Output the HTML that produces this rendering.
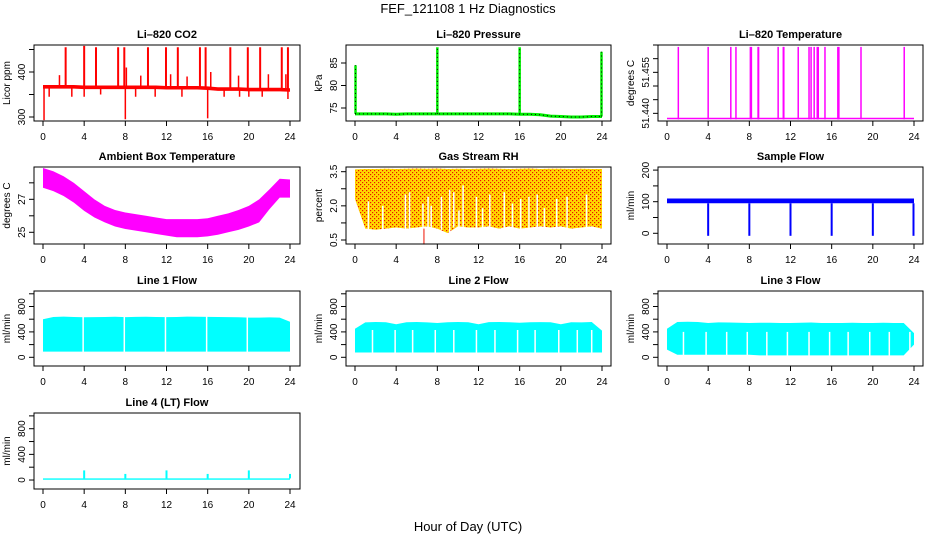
<!DOCTYPE html>
<html><head><meta charset="utf-8">
<style>
html,body{margin:0;padding:0;background:#fff;}
svg{display:block;font-family:"Liberation Sans",sans-serif;}
.t{font-size:11px;font-weight:bold;text-anchor:middle;}
.tk{font-size:10px;text-anchor:middle;}
</style></head>
<body>
<svg id="chart" width="936" height="540" viewBox="0 0 936 540" xmlns="http://www.w3.org/2000/svg">
<defs>
<pattern id="rhdots" width="4" height="4" patternUnits="userSpaceOnUse"><rect width="4" height="4" fill="#ffd800"/><rect x="0" y="0" width="1.2" height="1.2" fill="#ee1100"/><rect x="2" y="2" width="1.2" height="1.2" fill="#ee1100"/></pattern>
</defs>
<text x="468" y="13" font-size="13" text-anchor="middle">FEF_121108  1 Hz Diagnostics</text>
<text x="468" y="531" font-size="13" text-anchor="middle">Hour of Day (UTC)</text>
</svg>
<script>
// ---- data ----
const xTicks = [0,4,8,12,16,20,24];
const hours = [0,1,2,3,4,5,6,7,8,9,10,11,12,13,14,15,16,17,18,19,20,21,22,23,24];
const co2Level = [367,367,367,367,366,366,366,366,366,366,366,366,365,365,365,365,364,362,362,362,361,361,361,361,360];
const co2SpikeHours = [2.2,4.0,5.15,7.3,7.9,10.2,11.95,13.1,15.25,15.8,18.2,19.9,21.1,23.2,23.8];
const co2SpikeVals = [455,458,455,455,455,455,455,455,455,455,455,455,455,455,455];
const co2SmallHours = [1.6,8.1,9.5,12.4,14.0,16.3,19.0,21.9,23.6];
const co2SmallVals = [393,410,392,395,390,400,392,395,395];
const co2DownHours = [0.1,0.6,2.8,4.0,5.6,8.0,9.0,10.9,13.5,16.0,17.6,19.1,20.0,21.3,23.8];
const co2DownVals = [293,345,345,345,350,295,345,345,345,297,345,345,345,345,340];
const presLevel = [73.7,73.7,73.7,73.7,73.6,73.7,73.7,73.7,73.7,73.7,73.7,73.7,73.7,73.7,73.7,73.7,73.6,73.6,73.5,73.2,73.1,73.0,73.0,73.1,73.1];
const presSpikeHours = [0.05,8.0,16.0,23.95];
const presSpikeVals = [84.5,88.5,88.5,87.5];
const tempBase = 51.4381;
const tempSpikeHours = [1.1,4.0,6.2,6.7,8.1,8.2,8.85,8.9,10.8,11.3,11.35,12.75,13.8,14.0,14.3,14.6,14.7,15.35,16.6,16.7,18.85,23.05];
const ambUpper = [28.9,28.7,28.4,28.0,27.5,27.0,26.6,26.35,26.2,26.1,26.0,25.9,25.8,25.8,25.8,25.8,25.85,26.0,26.15,26.35,26.6,27.0,27.6,28.25,28.2];
const ambLower = [27.7,27.5,27.2,26.8,26.3,25.9,25.6,25.35,25.2,25.1,25.0,24.9,24.8,24.7,24.7,24.7,24.75,24.85,25.0,25.15,25.35,25.6,26.4,27.1,27.1];
const rhHigh = [3.6,3.62,3.62,3.63,3.62,3.63,3.64,3.63,3.64,3.62,3.63,3.62,3.63,3.64,3.63,3.62,3.63,3.64,3.62,3.63,3.63,3.62,3.63,3.62,3.62];
const rhLow = [2.3,1.0,0.95,1.0,1.05,1.0,1.05,1.1,1.0,0.8,1.1,1.05,1.05,1.1,1.0,1.1,1.0,1.05,1.1,1.05,1.1,1.0,1.05,1.1,1.0];
const rhGapHours = [1.3,2.7,4.9,5.3,6.6,7.1,7.4,8.4,9.2,9.6,10.1,10.5,11.8,12.4,13.1,14.5,15.3,16.1,16.9,17.7,18.4,19.6,20.6,22.5];
const rhGapTop = [2.2,2.0,2.5,2.6,2.1,2.4,2.0,2.4,2.7,2.6,1.8,2.9,2.4,1.9,2.5,2.6,2.1,2.3,2.4,2.5,1.9,2.3,2.4,2.5];
const sampleLow = 95, sampleHigh = 110;
const sampleDropHours = [4,8,12,16,20,23.95];
const sampleDropVals = [-8,-8,-8,-8,-8,-8];
const l1Low = 90, l1High = [600,635,640,635,630,632,635,638,632,636,638,635,632,635,640,638,636,635,632,630,625,625,628,625,560];
const l1GapHours = [3.9,7.9,11.9,15.9,19.85];
const l2Low = 75, l2High = [450,550,555,552,520,552,555,550,540,552,555,552,520,553,555,552,545,552,553,552,520,552,550,555,420];
const l2GapHours = [1.7,3.9,5.6,7.8,9.6,11.8,13.6,15.8,17.5,19.8,21.6,23.0];
const l3Low = [120,40,40,40,40,40,40,40,40,30,30,30,30,30,30,30,30,30,30,30,30,30,30,30,200];
const l3High = [450,555,560,555,540,550,548,545,540,545,545,540,540,545,548,540,540,540,545,540,540,545,540,540,380];
const l3GapHours = [1.6,3.8,5.8,7.8,9.7,11.7,13.8,15.8,17.6,19.7,21.6,23.6];
const l4Low = 5, l4High = 25;
const l4SpikeHours = [4,8,12,16,20,24];
const l4SpikeVals = [150,95,150,95,150,95];

// ---- layout ----
const svg = document.getElementById('chart');
const NS = 'http://www.w3.org/2000/svg';
const cols = [{l:34,r:300,x0:43,x1:290},{l:346,r:611,x0:355,x1:602},{l:658,r:923,x0:667,x1:914}];
const rows = [{t:45,b:121},{t:167,b:244},{t:291,b:366},{t:413,b:489}];
function el(tag, a, p){const e=document.createElementNS(NS,tag);for(const k in a)e.setAttribute(k,a[k]);(p||svg).appendChild(e);return e;}

function panel(c,r,title,ylab,ymin,ymax,ticks,labels,name){
  const C=cols[c],R=rows[r];
  const g=el('g',{});
  
  
  const P={g,
    x:h=>C.x0+(C.x1-C.x0)*h/24,
    y:v=>R.b-(v-ymin)/(ymax-ymin)*(R.b-R.t), C, R};
  const tt=el('text',{x:(C.l+C.r)/2,y:R.t-7,class:'t'},g); tt.textContent=title;
  
  
  const yl=el('text',{x:0,y:0,class:'tk',transform:`translate(${C.l-24},${(R.t+R.b)/2}) rotate(-90)`},g); yl.textContent=ylab;
  
  
  xTicks.forEach(h=>{
    const x=P.x(h);
    el('line',{x1:x,x2:x,y1:R.b,y2:R.b+5,stroke:'#000'},g);
    const t=el('text',{x:x,y:R.b+19,class:'tk'},g); t.textContent=h;
    
    
  });
  ticks.forEach((v,i)=>{
    const y=P.y(v);
    el('line',{x1:C.l-5,x2:C.l,y1:y,y2:y,stroke:'#000'},g);
    if(labels[i]){const t=el('text',{x:0,y:0,class:'tk',transform:`translate(${C.l-9},${y}) rotate(-90)`},g);t.textContent=labels[i];
      
      }
  });
  P.marks=el('g',{},g);
  P.box=()=>{const b=el('rect',{x:C.l,y:R.t,width:C.r-C.l,height:R.b-R.t,fill:'none',stroke:'#000'},g);
    
    };
  return P;
}
function vline(P,h,v1,v2,col,w,nm){const l=el('line',{x1:P.x(h),x2:P.x(h),y1:P.y(v1),y2:P.y(v2),stroke:col,'stroke-width':w||1.5},P.marks);
  
  return l;}
function band(P,lo,hi,fill,nm){
  const lo2=Array.isArray(lo)?lo:hours.map(()=>lo), hi2=Array.isArray(hi)?hi:hours.map(()=>hi);
  let pts=hours.map((h,i)=>P.x(h)+','+P.y(hi2[i]));
  pts=pts.concat(hours.slice().reverse().map((h,j)=>{const i=hours.length-1-j;return P.x(h)+','+P.y(lo2[i]);}));
  const p=el('polygon',{points:pts.join(' '),fill:fill},P.marks);
  
  return p;}

// CO2
let P=panel(0,0,'Li–820 CO2','Licor ppm',291.1,460,[300,350,400,450],['300','','400',''],'co2');
band(P,co2Level.map(v=>v-4),co2Level.map(v=>v+4),'#ff0000','co2-band');
co2SpikeHours.forEach((h,i)=>vline(P,h,co2Level[Math.round(h)],co2SpikeVals[i],'#ff0000',2,'co2-spike'));
co2SmallHours.forEach((h,i)=>vline(P,h,co2Level[Math.round(h)],co2SmallVals[i],'#ff0000',1.5,'co2-small-spike'));
co2DownHours.forEach((h,i)=>vline(P,h,co2Level[Math.round(h)],co2DownVals[i],'#ff0000',1.5,'co2-dip'));
P.box();

// Pressure
P=panel(1,0,'Li–820 Pressure','kPa',72.11,89,[75,80,85],['75','80','85'],'pressure');
let pl=el('polyline',{points:hours.map((h,i)=>P.x(h)+','+P.y(presLevel[i])).join(' '),fill:'none',stroke:'#00ee00','stroke-width':3},P.marks);


let pd=el('polyline',{points:hours.map((h,i)=>P.x(h)+','+P.y(presLevel[i])).join(' '),fill:'none',stroke:'#000','stroke-width':1,'stroke-dasharray':'1,3'},P.marks);


presSpikeHours.forEach((h,i)=>{vline(P,h,presLevel[Math.round(h)],presSpikeVals[i],'#00ee00',2.5,'pressure-spike');
  vline(P,h,presLevel[Math.round(h)],presSpikeVals[i],'#000',1,'pressure-spike-points').setAttribute('stroke-dasharray','1,3');});
P.box();

// Temperature
P=panel(2,0,'Li–820 Temperature','degrees C',51.4372,51.465,[51.44,51.445,51.45,51.455,51.46,51.465],['51.440','','','51.455','',''],'li820-temp');
let tl=el('line',{x1:P.x(0),x2:P.x(24),y1:P.y(tempBase),y2:P.y(tempBase),stroke:'#ff00ff','stroke-width':1.5},P.marks);


tempSpikeHours.forEach(h=>vline(P,h,tempBase-0.0003,51.4643,'#ff00ff',1.5,'temp-spike'));
P.box();

// Ambient
P=panel(0,1,'Ambient Box Temperature','degrees C',24.29,28.96,[25,26,27,28],['25','','27',''],'ambient-temp');
band(P,ambLower,ambUpper,'#ff00ff','ambient-band');
P.box();

// RH
P=panel(1,1,'Gas Stream RH','percent',0.324,3.706,[0.5,1.25,2.0,2.75,3.5],['0.5','','2.0','','3.5'],'rh');
band(P,rhLow,rhHigh,'url(#rhdots)','rh-band');
rhGapHours.forEach((h,i)=>vline(P,h,rhLow[Math.round(h)]-0.05,rhGapTop[i],'#ffffff',1.5,'rh-gap'));
vline(P,6.7,0.3,1.0,'#ee1100',1,'rh-outlier');
P.box();

// Sample flow
P=panel(2,1,'Sample Flow','ml/min',-33.9,209.8,[0,50,100,150,200],['0','','100','','200'],'sample-flow');
band(P,sampleLow,sampleHigh,'#0000ff','sample-band');
sampleDropHours.forEach((h,i)=>vline(P,h,sampleLow,sampleDropVals[i],'#0000ff',2,'sample-drop'));
P.box();

// Line 1
const flowTicks=[0,200,400,600,800,1000], flowLabels=['0','','400','','800',''];
P=panel(0,2,'Line 1 Flow','ml/min',-137,1044,flowTicks,flowLabels,'line1-flow');
band(P,l1Low,l1High,'#00ffff','line1-band');
l1GapHours.forEach(h=>vline(P,h,l1Low-10,700,'#ffffff',1.5,'line1-gap'));
P.box();

// Line 2
P=panel(1,2,'Line 2 Flow','ml/min',-137,1044,flowTicks,flowLabels,'line2-flow');
band(P,l2Low,l2High,'#00ffff','line2-band');
l2GapHours.forEach(h=>vline(P,h,l2Low-10,430,'#ffffff',1.5,'line2-gap'));
P.box();

// Line 3
P=panel(2,2,'Line 3 Flow','ml/min',-137,1044,flowTicks,flowLabels,'line3-flow');
band(P,l3Low,l3High,'#00ffff','line3-band');
l3GapHours.forEach(h=>vline(P,h,0,400,'#ffffff',1.5,'line3-gap'));
P.box();

// Line 4
P=panel(0,3,'Line 4 (LT) Flow','ml/min',-140,1045,flowTicks,flowLabels,'line4-flow');
band(P,l4Low,l4High,'#00ffff','line4-band');
l4SpikeHours.forEach((h,i)=>vline(P,h,l4High,l4SpikeVals[i],'#00ffff',2,'line4-spike'));
P.box();
</script>
</body></html>
